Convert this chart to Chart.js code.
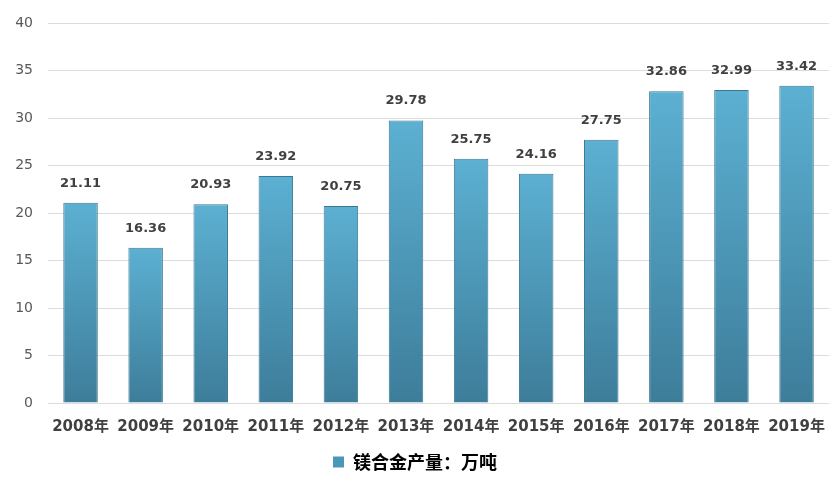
<!DOCTYPE html>
<html>
<head>
<meta charset="utf-8">
<script src="https://cdn.jsdelivr.net/npm/chart.js@4/dist/chart.umd.min.js"></script>
<style>
  html, body { margin: 0; padding: 0; background: #fff; }
  #wrap { width: 832px; height: 481px; }
</style>
</head>
<body>
<div id="wrap"><canvas id="chart"></canvas></div>
<script>
const years = ['2008年', '2009年', '2010年', '2011年', '2012年', '2013年', '2014年', '2015年', '2016年', '2017年', '2018年', '2019年'];
const output = [21.11, 16.36, 20.93, 23.92, 20.75, 29.78, 25.75, 24.16, 27.75, 32.86, 32.99, 33.42];
const seriesName = '镁合金产量：万吨';

const fontFamily = "'DejaVu Sans', 'Noto Sans CJK SC', sans-serif";

// each bar: light blue at its top, darker toward the axis
function barGradient(context) {
    const chart = context.chart;
    const area = chart.chartArea;
    if (!area || context.type !== 'data') return '#4a97b8';
    const top = chart.scales.y.getPixelForValue(context.raw);
    const g = chart.ctx.createLinearGradient(0, top, 0, area.bottom);
    g.addColorStop(0, '#5cb0d2');
    g.addColorStop(1, '#3d7d9a');
    return g;
}

// labels above bars
const valueLabels = {
    id: 'valueLabels',
    afterDatasetsDraw(chart) {
        const ctx = chart.ctx;
        const meta = chart.getDatasetMeta(0);
        ctx.save();
        ctx.font = "bold 13px " + fontFamily;
        ctx.fillStyle = '#404040';
        ctx.textAlign = 'center';
        ctx.textBaseline = 'alphabetic';
        meta.data.forEach((bar, i) => {
            ctx.fillText(output[i].toFixed(2), bar.x, bar.y - 16);
        });
        ctx.restore();
    }
};

new Chart(document.getElementById('chart'), {
    type: 'bar',
    data: {
        labels: years,
        datasets: [{
            label: seriesName,
            data: output,
            backgroundColor: barGradient,
            borderColor: '#3b7893',
            borderWidth: 1,
            categoryPercentage: 1,
            barPercentage: 0.53
        }]
    },
    options: {
        responsive: true,
        maintainAspectRatio: false,
        animation: false,
        layout: { padding: { top: 14, right: 2, left: 0, bottom: 0 } },
        scales: {
            x: {
                grid: { display: false },
                border: { display: false },
                ticks: {
                    color: '#404040',
                    font: { family: fontFamily, size: 15, weight: 'bold' },
                    maxRotation: 0,
                    autoSkip: false,
                    padding: 7
                }
            },
            y: {
                min: 0,
                max: 40,
                afterFit(scale) { scale.width = 48; },
                ticks: {
                    stepSize: 5,
                    color: '#595959',
                    font: { family: fontFamily, size: 14 },
                    padding: 15
                },
                grid: { color: '#dcdcdc', drawTicks: false },
                border: { display: false }
            }
        },
        plugins: {
            legend: {
                position: 'bottom',
                labels: {
                    boxWidth: 11,
                    boxHeight: 11,
                    color: '#404040',
                    padding: 10,
                    font: { family: "'Noto Sans CJK SC', sans-serif", size: 18, weight: 'bold' },
                    generateLabels() {
                        return [{ text: seriesName, fillStyle: '#4a97b8', strokeStyle: '#4a97b8', lineWidth: 0 }];
                    }
                }
            },
            tooltip: { enabled: false }
        }
    },
    plugins: [valueLabels]
});
</script>
</body>
</html>
